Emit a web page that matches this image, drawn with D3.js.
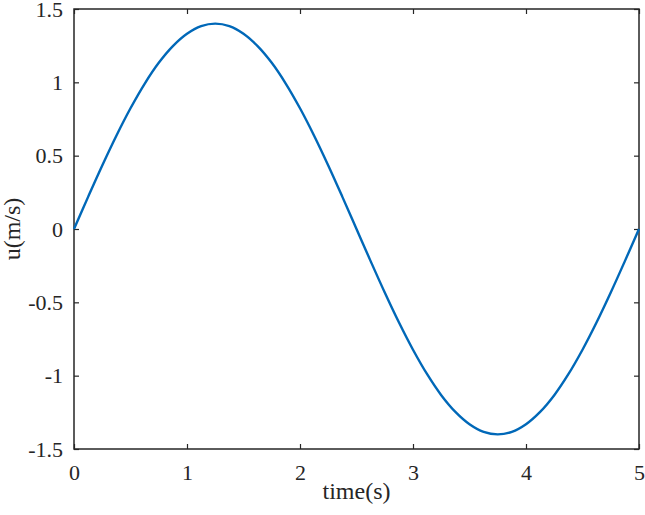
<!DOCTYPE html>
<html>
<head>
<meta charset="utf-8">
<script src="https://cdn.jsdelivr.net/npm/d3@7"></script>
<style>
  html, body { margin: 0; padding: 0; background: #fff; }
  svg { display: block; }
  text { font-family: "Liberation Serif", "Times New Roman", serif; fill: #262626; }
</style>
</head>
<body>
<svg id="chart" width="645" height="515"></svg>
<script>
// Data
const timeS = [0, 0.125, 0.25, 0.375, 0.5, 0.625, 0.75, 0.875, 1.0, 1.125, 1.25,
  1.375, 1.5, 1.625, 1.75, 1.875, 2.0, 2.125, 2.25, 2.375, 2.5,
  2.625, 2.75, 2.875, 3.0, 3.125, 3.25, 3.375, 3.5, 3.625, 3.75,
  3.875, 4.0, 4.125, 4.25, 4.375, 4.5, 4.625, 4.75, 4.875, 5.0];
const velocity = [0, 0.219, 0.433, 0.636, 0.823, 0.990, 1.133, 1.247, 1.331, 1.383, 1.400,
  1.383, 1.331, 1.247, 1.133, 0.990, 0.823, 0.636, 0.433, 0.219, 0,
  -0.219, -0.433, -0.636, -0.823, -0.990, -1.133, -1.247, -1.331, -1.383, -1.400,
  -1.383, -1.331, -1.247, -1.133, -0.990, -0.823, -0.636, -0.433, -0.219, 0];
const xTicks = [0, 1, 2, 3, 4, 5];
const yTicks = [-1.5, -1, -0.5, 0, 0.5, 1, 1.5];
const xLabel = "time(s)";
const yLabel = "u(m/s)";

(function () {
const svg = d3.select("#chart");
const mLeft = 74, mRight = 639, mTop = 9, mBottom = 449;
const x = d3.scaleLinear().domain([0, 5]).range([mLeft, mRight]);
const y = d3.scaleLinear().domain([-1.5, 1.5]).range([mBottom, mTop]);
const axisColor = "#262626";
const tickLen = 5;

function styleAxis(g) {
  g.select(".domain").remove();
  g.selectAll(".tick line").attr("stroke", axisColor).attr("stroke-width", 1.2);
  g.selectAll(".tick text").attr("font-size", 22).attr("fill", axisColor)
    .attr("font-family", "'Liberation Serif', 'Times New Roman', serif");
}

svg.append("g").attr("transform", `translate(0,${mBottom})`)
  .call(d3.axisBottom(x).tickValues(xTicks).tickFormat(d3.format("")).tickSizeInner(-tickLen).tickSizeOuter(0).tickPadding(15))
  .call(styleAxis);
svg.append("g").attr("transform", `translate(0,${mTop})`)
  .call(d3.axisTop(x).tickValues(xTicks).tickFormat("").tickSizeInner(-tickLen).tickSizeOuter(0))
  .call(styleAxis);
svg.append("g").attr("transform", `translate(${mLeft},0)`)
  .call(d3.axisLeft(y).tickValues(yTicks).tickFormat(d3.format("")).tickSizeInner(-tickLen).tickSizeOuter(0).tickPadding(11))
  .call(styleAxis);
svg.append("g").attr("transform", `translate(${mRight},0)`)
  .call(d3.axisRight(y).tickValues(yTicks).tickFormat("").tickSizeInner(-tickLen).tickSizeOuter(0))
  .call(styleAxis);

svg.selectAll(".tick text").text(function () { return d3.select(this).text().replace("\u2212", "-"); });

svg.append("rect").attr("x", mLeft).attr("y", mTop)
  .attr("width", mRight - mLeft).attr("height", mBottom - mTop)
  .attr("fill", "none").attr("stroke", axisColor).attr("stroke-width", 1.5);

const line = d3.line().x((d, i) => x(timeS[i])).y(d => y(d)).curve(d3.curveCatmullRom);
svg.append("path").datum(velocity)
  .attr("d", line).attr("fill", "none")
  .attr("stroke", "#0068B8").attr("stroke-width", 2.4);

svg.append("text").attr("x", (mLeft + mRight) / 2).attr("y", 499)
  .attr("text-anchor", "middle").attr("font-size", 24).text(xLabel);
svg.append("text").attr("transform", `translate(20,${(mTop + mBottom) / 2}) rotate(-90)`)
  .attr("text-anchor", "middle").attr("font-size", 24).text(yLabel);
})();
</script>
</body>
</html>
